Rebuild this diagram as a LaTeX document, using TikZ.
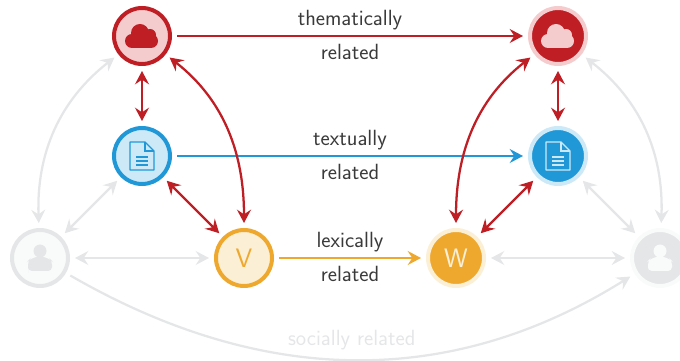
\documentclass[tikz,border=0pt]{standalone}
\usepackage{fontspec}
\setmainfont{Latin Modern Sans}
\usetikzlibrary{arrows.meta}
\definecolor{redd}{HTML}{BE1E24}
\definecolor{redl}{HTML}{F5CCCD}
\definecolor{blued}{HTML}{2098D8}
\definecolor{bluel}{HTML}{CDE9F7}
\definecolor{orad}{HTML}{EFA82E}
\definecolor{oral}{HTML}{FBEFD6}
\definecolor{grayd}{HTML}{E5E6E8}
\definecolor{grayl}{HTML}{F9FAFA}
\definecolor{labelc}{HTML}{3A3A3A}
\tikzset{
  ringnode/.style={circle,line width=3pt,minimum size=42pt,inner sep=0pt,font=\fontsize{20}{20}\selectfont},
  link/.style={line width=1.7pt,shorten >=3.75pt,shorten <=3.75pt,
    >={Stealth[length=10pt,width=10.5pt,inset=3.5pt]}},
  rel/.style={font=\fontsize{16.5}{17}\selectfont,text=labelc,inner sep=0pt},
  cloudicon/.pic={
    \fill[pic actions] (-10,-5) circle (7);
    \fill[pic actions] (9,-5) circle (7);
    \fill[pic actions] (-2,3) circle (9);
    \fill[pic actions] (8,1) circle (6);
    \fill[pic actions] (-10,-12) rectangle (9,-2);
  },
  docicon/.pic={
    \draw[pic actions,line width=1pt,line join=round] (-12,14) -- (3,14) -- (12,5) -- (12,-14) -- (-12,-14) -- cycle;
    \draw[pic actions,line width=1pt] (3,14) -- (3,5) -- (12,5);
    \draw[pic actions,line width=1pt] (-6,-1) -- (6,-1) (-6,-5) -- (6,-5) (-6,-9) -- (6,-9);
  },
  usericon/.pic={
    \fill[pic actions] (0,7) circle (6.5);
    \fill[pic actions] (-12,-11) [rounded corners=3] -- (-12,-3) [rounded corners=6] -- (-8,1.5) -- (8,1.5) [rounded corners=3] -- (12,-3) -- (12,-13) -- (-12,-13) -- cycle;
  }
}
\begin{document}
\begin{tikzpicture}[x=0.75pt,y=0.75pt]
\useasboundingbox (0,0) rectangle (680,360);

\node[ringnode,draw=redd,fill=redl] (cloud1) at (142,324) {};
\node[ringnode,draw=redl,fill=redd] (cloud2) at (558,324) {};
\node[ringnode,draw=blued,fill=bluel] (doc1) at (142,204) {};
\node[ringnode,draw=bluel,fill=blued] (doc2) at (558,204) {};
\node[ringnode,draw=orad,fill=oral,text=orad] (v) at (244,102) {V};
\node[ringnode,draw=oral,fill=orad,text=oral] (w) at (456,102) {W};
\node[ringnode,draw=grayd,fill=grayl] (user1) at (40,102) {};
\node[ringnode,draw=grayl,fill=grayd] (user2) at (660,102) {};

\pic[fill=redd] at (cloud1) {cloudicon};
\pic[fill=redl] at (cloud2) {cloudicon};
\pic[draw=blued] at (doc1) {docicon};
\pic[draw=bluel] at (doc2) {docicon};
\pic[fill=grayd] at (user1) {usericon};
\pic[fill=grayl] at (user2) {usericon};

\draw[link,redd,->] (cloud1) -- node[rel,above=4pt]{thematically} node[rel,below=5pt]{related} (cloud2);
\draw[link,blued,->] (doc1) -- node[rel,above=4pt]{textually} node[rel,below=5pt]{related} (doc2);
\draw[link,orad,->] (v) -- node[rel,above=4pt]{lexically} node[rel,below=5pt]{related} (w);

\draw[link,redd,<->] (cloud1) -- (doc1);
\draw[link,redd,<->] (cloud2) -- (doc2);
\draw[link,redd,<->] (doc1) -- (v);
\draw[link,redd,<->] (doc2) -- (w);
\draw[link,redd,<->] (cloud1) to[out=-38,in=90] (v);
\draw[link,redd,<->] (cloud2) to[out=-142,in=90] (w);

\draw[link,grayd,<->] (user1) -- (doc1);
\draw[link,grayd,<->] (user2) -- (doc2);
\draw[link,grayd,<->] (user1) -- (v);
\draw[link,grayd,<->] (w) -- (user2);
\draw[link,grayd,<->] (user1) to[out=92,in=218] (cloud1);
\draw[link,grayd,<->] (user2) to[out=88,in=-38] (cloud2);
\draw[link,grayd,->] (user1) to[out=-30,in=212] node[pos=0.5,above=6pt,rel,text=grayd]{socially related} (user2);
\end{tikzpicture}
\end{document}
